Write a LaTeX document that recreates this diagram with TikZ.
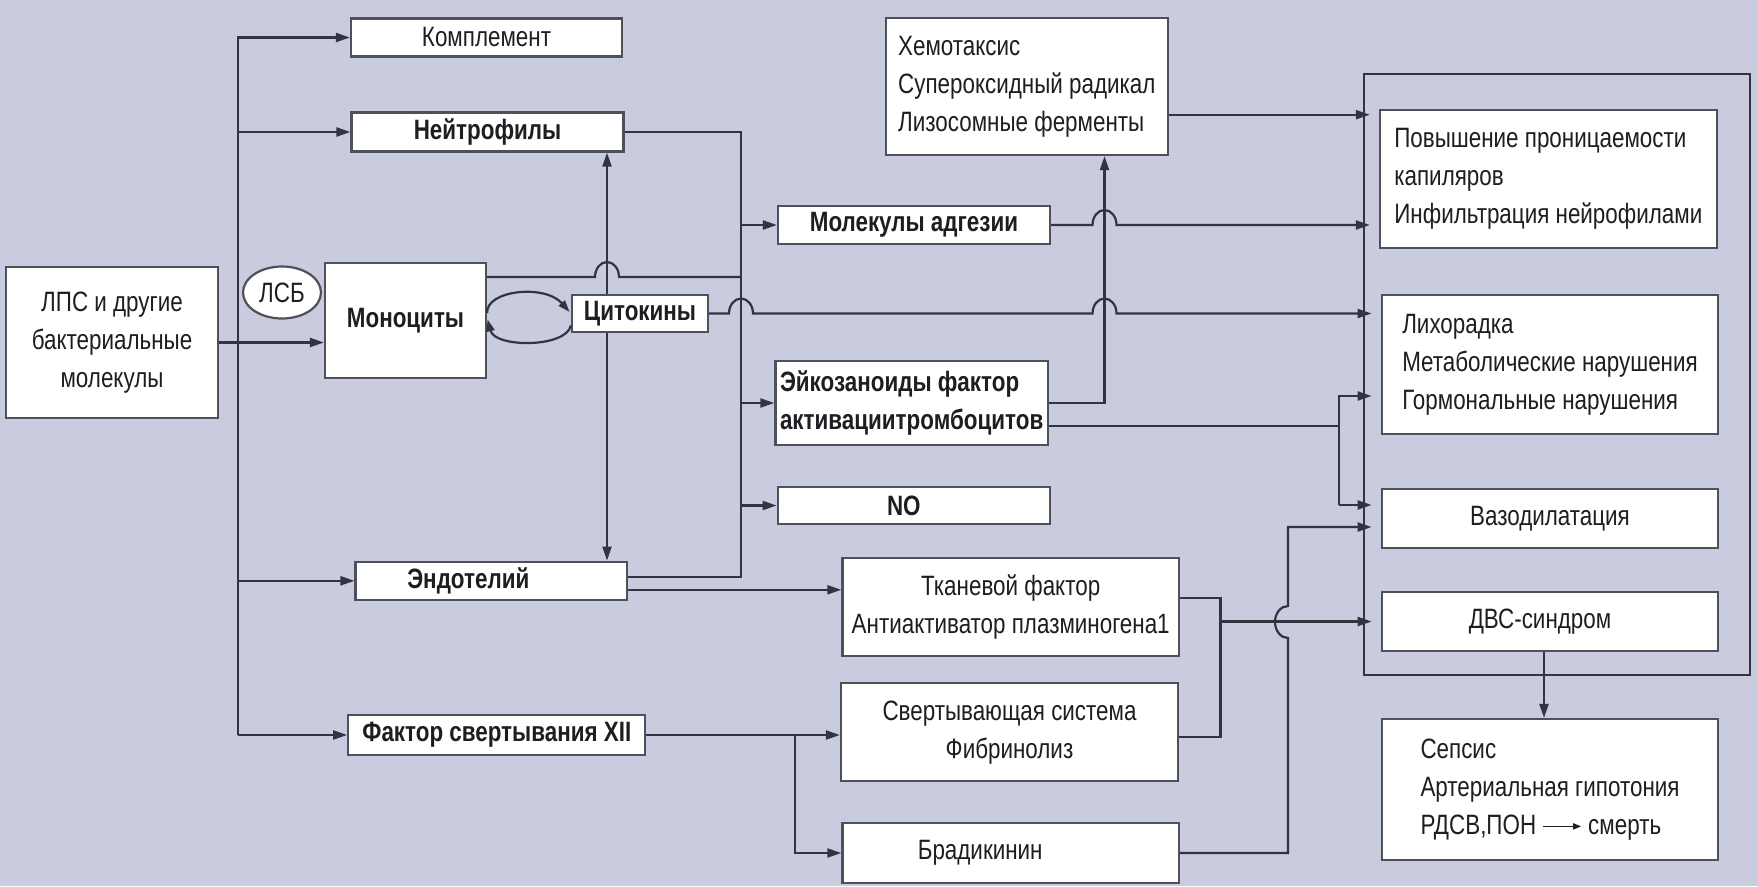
\documentclass[tikz,border=0pt]{standalone}
\usepackage{fontspec}
\setmainfont{Liberation Sans}[FakeStretch=0.8]
\usetikzlibrary{arrows.meta,shapes.geometric}
\definecolor{bgc}{RGB}{201,204,222}
\definecolor{bordc}{RGB}{78,80,92}
\definecolor{linec}{RGB}{50,52,64}
\definecolor{txtc}{RGB}{30,30,34}
\newcommand\myfs{\fontsize{28pt}{38pt}\selectfont}
\begin{document}
\begin{tikzpicture}[x=1pt,y=-1pt,
 box/.style={draw=bordc, fill=white, line width=2.2pt, inner sep=0pt, text=txtc, font=\myfs},
 bbox/.style={box, font=\myfs\bfseries},
 ln/.style={draw=linec, line width=2.2pt},
 arr/.style={ln, -{Triangle[length=14pt,width=9pt]}},
 farr/.style={arr, shorten >=9pt},
]
\fill[bgc] (0,0) rectangle (1758,886);
\useasboundingbox (0,0) rectangle (1758,886);

% nodes
\node[box, minimum width=212pt, minimum height=151pt, align=center] (lps) at (112,342.5) {ЛПС и другие\\бактериальные\\молекулы};
\node[box, minimum width=271pt, minimum height=38pt] (komp) at (486.5,37.5) {Комплемент};
\node[bbox, minimum width=272pt, minimum height=39pt] (neut) at (487.5,132) {Нейтрофилы};
\node[box, ellipse, minimum width=78pt, minimum height=52pt] (lsb) at (282,292.5) {ЛСБ};
\node[bbox, minimum width=161pt, minimum height=115pt] (mono) at (405.5,320.5) {Моноциты};
\node[bbox, minimum width=136pt, minimum height=37pt] (cyto) at (640,313.5) {Цитокины};
\node[bbox, minimum width=271.5pt, minimum height=38.3pt] (endo) at (491.3,580.8) {\hspace*{-46pt}Эндотелий};
\node[bbox, minimum width=297pt, minimum height=39.4pt] (fxii) at (496.8,735) {Фактор свертывания XII};
\node[bbox, minimum width=272pt, minimum height=38pt] (adh) at (914,225) {Молекулы адгезии};
\node[bbox, minimum width=272.4pt, minimum height=84pt, align=left] (eic) at (911.6,403) {Эйкозаноиды фактор\\активациитромбоцитов};
\node[bbox, minimum width=272.3pt, minimum height=37.6pt] (no) at (913.8,505.5) {\hspace*{-20pt}NO};
\node[box, minimum width=282.2pt, minimum height=136.7pt, align=left] (chemo) at (1026.8,86.7) {Хемотаксис\\Супероксидный радикал\\Лизосомные ферменты};
\node[box, minimum width=336.6pt, minimum height=97.7pt, align=center] (tissue) at (1010.7,607.2) {Тканевой фактор\\Антиактиватор плазминогена1};
\node[box, minimum width=337pt, minimum height=97.7pt, align=center] (coag) at (1009.5,732.2) {Свертывающая система\\Фибринолиз};
\node[box, minimum width=336.6pt, minimum height=60.6pt] (brady) at (1010.7,853) {\hspace*{-61pt}Брадикинин};
\node[draw=linec, line width=2.2pt, minimum width=386pt, minimum height=601pt, inner sep=0pt] (frame) at (1557,374.5) {};
\node[box, minimum width=336.7pt, minimum height=138.3pt, align=left] (perm) at (1548.3,179.2) {Повышение проницаемости\\капиляров\\Инфильтрация нейрофилами};
\node[box, minimum width=336.6pt, minimum height=139pt, align=left] (fever) at (1550,364.5) {Лихорадка\\Метаболические нарушения\\Гормональные нарушения};
\node[box, minimum width=336.6pt, minimum height=59pt] (vaso) at (1550,518.5) {Вазодилатация};
\node[box, minimum width=336.6pt, minimum height=59pt] (dvs) at (1550,621.5) {\hspace*{-20pt}ДВС-синдром};
\node[box, minimum width=336pt, minimum height=141pt, align=left] (sepsis) at (1550,789.5) {Сепсис\\Артериальная гипотония\\РДСВ,ПОН\ \raisebox{5pt}{\tikz\draw[draw=txtc, line width=1.6pt, -{Triangle[length=8pt,width=6pt]}] (0pt,0pt) -- (38pt,0pt);}\ смерть};

% helper coordinates
\coordinate (trunkx) at (238,0);
\coordinate (vx) at (607,0);
\coordinate (colx) at (741,0);
\coordinate (ex) at (1104.5,0);
\coordinate (tx) at (1220.5,0);
\coordinate (bx) at (1288,0);
\coordinate (gx) at (1339,0);
\coordinate (brx) at (795,0);

% trunk
\draw[arr] (fxii.west -| trunkx) |- (komp.west);
\draw[arr] (trunkx |- neut.west) -- (neut.west);
\draw[arr] (trunkx |- endo.west) -- (endo.west);
\draw[arr] (trunkx |- fxii.west) -- (fxii.west);
\draw[arr] (lps.east) -- (lps.east -| mono.west);

% cytokine verticals
\draw[arr] (vx |- cyto.north) -- (vx |- neut.south);
\draw[arr] (vx |- cyto.south) -- (vx |- endo.north);

% loop monocytes <-> cytokines
\draw[arr, -{Triangle[length=12pt,width=8pt]}, shorten >=2pt] ([yshift=7.5pt]mono.east) .. controls (486,290) and (545,284) .. (cyto.west);
\draw[arr, -{Triangle[length=12pt,width=8pt]}, shorten >=2pt] ([yshift=-12pt]cyto.west) .. controls (566,348) and (495,348) .. ([yshift=3pt]mono.east);

% monocytes to collector
\coordinate (m2) at ([yshift=43.5pt]mono.east);
\draw[ln] (m2) -- (595,277) arc[start angle=180,end angle=0,x radius=12pt,y radius=15pt] -- (colx |- m2);

% collector
\coordinate (e1) at ([yshift=4pt]endo.east);
\draw[ln] (neut.east) -| (colx |- e1) -- (e1);
\draw[arr] (colx |- adh.west) -- (adh.west);
\draw[arr] (colx |- eic.west) -- (eic.west);
\draw[arr] (colx |- no.west) -- (no.west);

% endothelium to tissue factor
\coordinate (e3) at ([yshift=-9pt]endo.east);
\draw[arr] (e3) -- (e3 -| tissue.west);

% cytokines to fever
\draw[farr] (cyto.east) -- (729,313.5) arc[start angle=180,end angle=0,x radius=12pt,y radius=15pt]
  -- (1092.5,313.5) arc[start angle=180,end angle=0,x radius=12pt,y radius=15pt] -- (cyto.east -| fever.west);

% chemotaxis to permeability
\coordinate (c1) at ([yshift=-28pt]chemo.east);
\draw[farr] (c1) -- (c1 -| perm.west);

% adhesion to permeability
\draw[farr] (adh.east) -- (1092.5,225) arc[start angle=180,end angle=0,x radius=12pt,y radius=15pt] -- (adh.east -| perm.west);

% eicosanoids up to chemotaxis
\draw[arr] (eic.east) -| (ex |- chemo.south);

% eicosanoids lower branch
\coordinate (e2) at ([yshift=-23pt]eic.east);
\coordinate (f1) at ([yshift=-31.5pt]fever.west);
\coordinate (v1) at ([yshift=13.5pt]vaso.west);
\draw[ln] (e2) -- (gx |- e2);
\draw[farr] (gx |- v1) |- (f1);
\draw[farr] (gx |- v1) -- (v1);

% tissue + coag to DIC
\coordinate (t1) at ([yshift=9pt]tissue.east);
\coordinate (c2) at ([yshift=-4.5pt]coag.east);
\draw[ln] (t1) -| (tx |- c2) -- (c2);
\draw[farr] (tx |- dvs.west) -- (dvs.west);

% factor XII
\draw[arr] (fxii.east) -- (fxii.east -| coag.west);
\draw[arr] (brx |- fxii.east) |- (brady.west);

% bradykinin to vasodilation
\coordinate (v2) at ([yshift=-8.5pt]vaso.west);
\draw[farr] (brady.east) -- (bx |- brady.east) -- (1288,638) arc[start angle=270,end angle=90,x radius=13pt,y radius=16pt] -- (bx |- v2) -- (v2);

% DIC to sepsis
\coordinate (d1) at ([xshift=-6pt]dvs.south);
\draw[arr] (d1) -- (d1 |- sepsis.north);
\end{tikzpicture}
\end{document}
